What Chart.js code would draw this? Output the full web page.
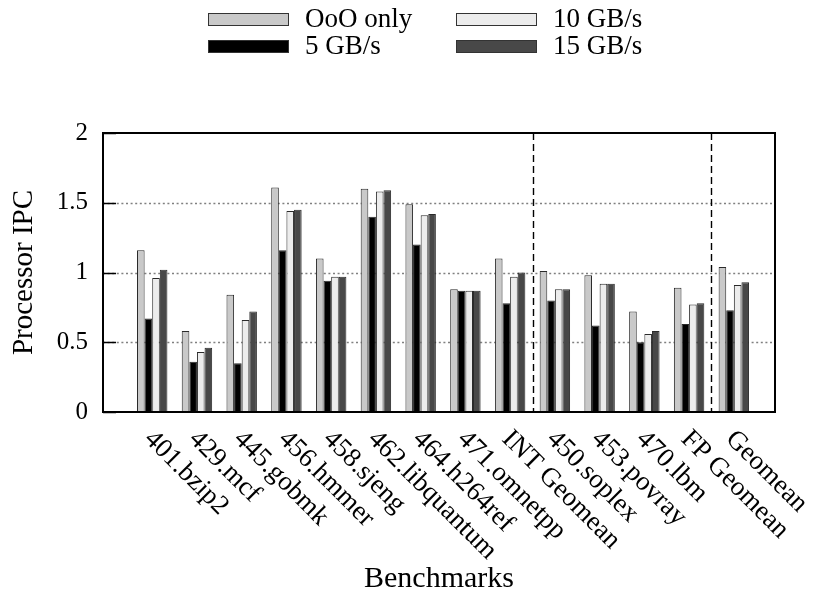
<!DOCTYPE html>
<html>
<head>
<meta charset="utf-8">
<title>Processor IPC</title>
<script src="https://cdn.jsdelivr.net/npm/chart.js@4.4.0/dist/chart.umd.min.js"></script>
<style>
  html, body { margin: 0; padding: 0; background: #fff; }
  #wrap { width: 815px; height: 594px; }
</style>
</head>
<body>
<div id="wrap"><canvas id="ipcChart" width="815" height="594"></canvas></div>
<script>
// values
const benchmarks = [
  "401.bzip2", "429.mcf", "445.gobmk", "456.hmmer", "458.sjeng",
  "462.libquantum", "464.h264ref", "471.omnetpp", "INT Geomean",
  "450.soplex", "453.povray", "470.lbm", "FP Geomean", "Geomean"
];
const oooOnly = [1.16, 0.58, 0.84, 1.61, 1.10, 1.60, 1.49, 0.88, 1.10, 1.01, 0.98, 0.72, 0.89, 1.04];
const bw5 = [0.67, 0.36, 0.35, 1.16, 0.94, 1.40, 1.20, 0.87, 0.78, 0.80, 0.62, 0.50, 0.63, 0.73];
const bw10 = [0.96, 0.43, 0.66, 1.44, 0.97, 1.58, 1.41, 0.87, 0.97, 0.88, 0.92, 0.56, 0.77, 0.91];
const bw15 = [1.02, 0.46, 0.72, 1.45, 0.97, 1.59, 1.42, 0.87, 1.00, 0.88, 0.92, 0.58, 0.78, 0.93];
const yTicks = [0, 0.5, 1, 1.5, 2];
const groupSeparators = [8.5, 12.5]; // between INT / FP / overall

const FONT = '"Liberation Serif", "Times New Roman", serif';

function toPoints(arr) {
  return arr.map((v, i) => ({ x: i, y: v }));
}

const gnuplotLook = {
  id: "gnuplotLook",
  beforeDatasetsDraw(chart) {
    const { ctx, chartArea: a, scales: { y } } = chart;
    ctx.save();
    ctx.strokeStyle = "#808080";
    ctx.lineWidth = 1.3;
    ctx.setLineDash([2, 2.6]);
    yTicks.forEach((v) => {
      if (v <= y.min || v >= y.max) return;
      const py = Math.round(y.getPixelForValue(v)) + 0.5;
      ctx.beginPath();
      ctx.moveTo(a.left, py);
      ctx.lineTo(a.right, py);
      ctx.stroke();
    });
    ctx.restore();
  },
  afterDraw(chart) {
    const { ctx, chartArea: a, scales: { x, y } } = chart;
    ctx.save();

    // dashed group separators
    ctx.strokeStyle = "#000";
    ctx.lineWidth = 1.4;
    ctx.setLineDash([7, 4]);
    groupSeparators.forEach((v) => {
      const px = Math.round(x.getPixelForValue(v)) + 0.5;
      ctx.beginPath();
      ctx.moveTo(px, a.top);
      ctx.lineTo(px, a.bottom);
      ctx.stroke();
    });
    ctx.setLineDash([]);

    // inward y tick marks
    ctx.lineWidth = 1.5;
    yTicks.forEach((v) => {
      const py = Math.round(y.getPixelForValue(v)) + 0.5;
      ctx.beginPath();
      ctx.moveTo(a.left, py);
      ctx.lineTo(a.left + 13, py);
      ctx.stroke();
    });

    // frame
    ctx.lineWidth = 2;
    ctx.strokeRect(a.left, a.top, a.right - a.left, a.bottom - a.top);

    // rotated x labels (reading down to the right)
    ctx.fillStyle = "#000";
    ctx.font = "27px " + FONT;
    ctx.textAlign = "left";
    ctx.textBaseline = "middle";
    benchmarks.forEach((name, i) => {
      const px = x.getPixelForValue(i);
      ctx.save();
      ctx.translate(px - 4, a.bottom + 23);
      ctx.rotate(Math.PI / 4);
      ctx.fillText(name, 0, 0);
      ctx.restore();
    });

    // two-column legend, filled column by column
    const ds = chart.data.datasets;
    const cols = [208, 456];
    const rows = [19, 46];
    ctx.font = "27px " + FONT;
    ds.forEach((d, i) => {
      const bx = cols[Math.floor(i / 2)];
      const cy = rows[i % 2];
      ctx.fillStyle = d.backgroundColor;
      ctx.fillRect(bx, cy - 6, 80, 12);
      ctx.strokeStyle = "#333";
      ctx.lineWidth = 1;
      ctx.strokeRect(bx + 0.5, cy - 6 + 0.5, 80, 12);
      ctx.fillStyle = "#000";
      ctx.fillText(d.label, bx + 97, cy + 1);
    });

    ctx.restore();
  }
};

new Chart(document.getElementById("ipcChart"), {
  type: "bar",
  data: {
    datasets: [
      { label: "OoO only", data: toPoints(oooOnly), backgroundColor: "#c9c9c9" },
      { label: "5 GB/s", data: toPoints(bw5), backgroundColor: "#000000" },
      { label: "10 GB/s", data: toPoints(bw10), backgroundColor: "#ececec" },
      { label: "15 GB/s", data: toPoints(bw15), backgroundColor: "#484848" }
    ]
  },
  options: {
    responsive: false,
    animation: false,
    layout: { padding: { top: 133, right: 40, left: 0, bottom: 0 } },
    datasets: {
      bar: {
        categoryPercentage: 0.68,
        barPercentage: 1.0,
        borderWidth: 1,
        borderColor: "#2a2a2a"
      }
    },
    plugins: {
      legend: { display: false },
      tooltip: { enabled: false }
    },
    scales: {
      x: {
        type: "linear",
        offset: false,
        min: -1.1,
        max: 13.92,
        grid: { display: false, drawTicks: false },
        border: { display: false },
        ticks: { display: false, stepSize: 1, includeBounds: false },
        title: {
          display: true,
          text: "Benchmarks",
          color: "#000",
          font: { family: FONT, size: 30, lineHeight: 1 },
          padding: { top: 0, bottom: 0 }
        },
        afterFit(scale) {
          scale.height = 182;
        }
      },
      y: {
        min: 0,
        max: 2,
        grid: { display: false, drawTicks: false },
        border: { display: false },
        ticks: {
          stepSize: 0.5,
          color: "#000",
          padding: 15,
          font: { family: FONT, size: 25 },
          callback: (v) => String(v)
        },
        title: {
          display: true,
          text: "Processor IPC",
          color: "#000",
          font: { family: FONT, size: 29, lineHeight: 1.2 },
          padding: { top: 7, bottom: 0 }
        },
        afterFit(scale) {
          scale.width = 103;
        }
      }
    }
  },
  plugins: [gnuplotLook]
});
</script>
</body>
</html>
